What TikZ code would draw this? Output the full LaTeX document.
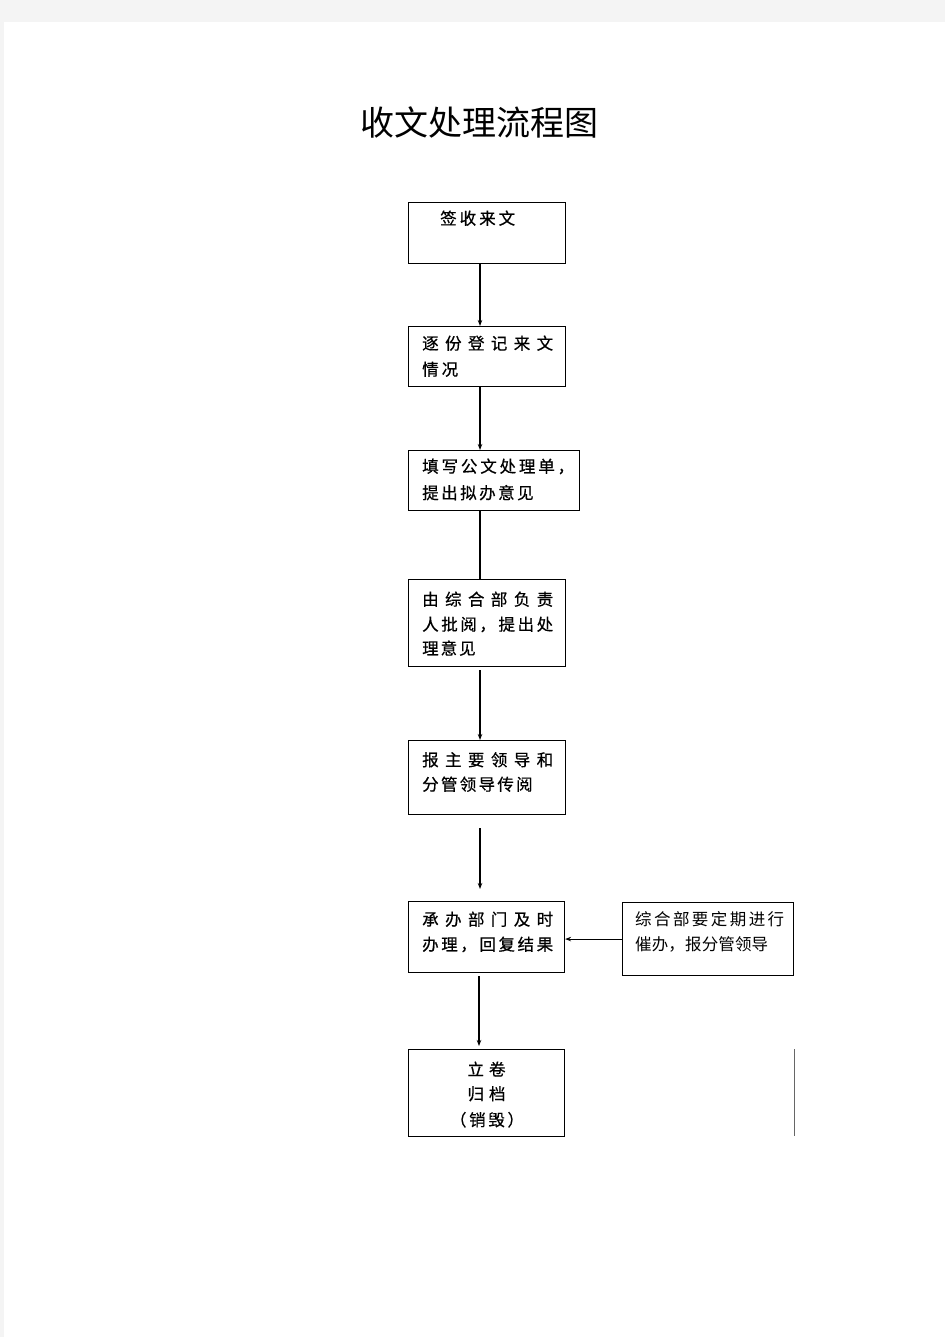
\documentclass[tikz,border=0pt]{standalone}
\usepackage{fontspec}
\newfontfamily\cjk{Noto Sans CJK SC}
\newfontfamily\cjkb[FakeBold=0.6]{Noto Sans CJK SC}
\usetikzlibrary{arrows.meta}
\definecolor{bgc}{HTML}{F4F4F4}
\newcommand\jt[2]{\makebox[#1pt][l]{#2}}
\begin{document}
\begin{tikzpicture}[x=1pt,y=-1pt,
  box/.style={draw=black,line width=1.1pt,anchor=north west,inner sep=0pt},
  txt/.style={anchor=base west,inner sep=0pt,font=\cjkb\fontsize{16.5}{20}\selectfont},
  rtxt/.style={anchor=base west,inner sep=0pt,font=\cjk\fontsize{16.5}{20}\selectfont},
  ctxt/.style={anchor=base,inner sep=0pt,font=\cjkb\fontsize{16.5}{20}\selectfont},
  conn/.style={line width=1.1pt},
  arr/.style={line width=1.1pt,-{Stealth[length=6pt,width=4.5pt]}}]
\fill[bgc] (0,0) rectangle (945,1337);
\fill[white] (4,22) rectangle (945,1337);
\useasboundingbox (0,0) rectangle (945,1337);
\coordinate (spine) at (480,0);
\coordinate (spineb) at (479,0);
% title
\node[inner sep=0pt,font=\cjk\fontsize{34}{40}\selectfont] (title) at (479,122.5) {收文处理流程图};
% boxes
\node[box,minimum width=157pt,minimum height=61pt] (b1) at (408,202) {};
\node[box,minimum width=157pt,minimum height=60pt] (b2) at (408,326) {};
\node[box,minimum width=171pt,minimum height=60pt] (b3) at (408,450) {};
\node[box,minimum width=157pt,minimum height=87pt] (b4) at (408,579) {};
\node[box,minimum width=157pt,minimum height=74pt] (b5) at (408,740) {};
\node[box,minimum width=156pt,minimum height=71pt] (b6) at (408,901) {};
\node[box,minimum width=171pt,minimum height=73pt] (b7) at (622,902) {};
\node[box,minimum width=156pt,minimum height=87pt] (b8) at (408,1049) {};
% texts
\node[txt] (t1) at (440,224.5) {\jt{75}{签\hfill 收\hfill 来\hfill 文}};
\node[txt] (t2a) at (422,349.5) {\jt{131}{逐\hfill 份\hfill 登\hfill 记\hfill 来\hfill 文}};
\node[txt] (t2b) at (422,375.5) {\jt{36}{情\hfill 况}};
\node[txt] (t3a) at (422,472.5) {\jt{152}{填\hfill 写\hfill 公\hfill 文\hfill 处\hfill 理\hfill 单\hfill ，}};
\node[txt] (t3b) at (422,499) {\jt{111.5}{提\hfill 出\hfill 拟\hfill 办\hfill 意\hfill 见}};
\node[txt] (t4a) at (422,605.5) {\jt{131}{由\hfill 综\hfill 合\hfill 部\hfill 负\hfill 责}};
\node[txt] (t4b) at (422,630.5) {\jt{131}{人\hfill 批\hfill 阅\hfill ，\hfill 提\hfill 出\hfill 处}};
\node[txt] (t4c) at (422,654.5) {\jt{53.5}{理\hfill 意\hfill 见}};
\node[txt] (t5a) at (422,766) {\jt{131}{报\hfill 主\hfill 要\hfill 领\hfill 导\hfill 和}};
\node[txt] (t5b) at (422,790.5) {\jt{110.5}{分\hfill 管\hfill 领\hfill 导\hfill 传\hfill 阅}};
\node[txt] (t6a) at (422,925.5) {\jt{131}{承\hfill 办\hfill 部\hfill 门\hfill 及\hfill 时}};
\node[txt] (t6b) at (422,950.5) {\jt{131}{办\hfill 理\hfill ，\hfill 回\hfill 复\hfill 结\hfill 果}};
\node[rtxt] (t7a) at (635,925.5) {\jt{149}{综\hfill 合\hfill 部\hfill 要\hfill 定\hfill 期\hfill 进\hfill 行}};
\node[rtxt] (t7b) at (635,950) {\jt{133}{催\hfill 办\hfill ，\hfill 报\hfill 分\hfill 管\hfill 领\hfill 导}};
\node[ctxt] (t8a) at (486.5,1075.5) {\jt{38}{立\hfill 卷}};
\node[ctxt] (t8b) at (486.5,1100) {\jt{38}{归\hfill 档}};
\node[ctxt] (t8c) at (487,1126) {\jt{74}{（\hfill 销\hfill 毁\hfill ）}};
% connectors
\draw[arr] (b1.south -| spine) -- (b2.north -| spine);
\draw[arr] (b2.south -| spine) -- (b3.north -| spine);
\draw[conn] (b3.south -| spine) -- (b4.north -| spine);
\draw[arr,shorten <=3pt] (b4.south -| spine) -- (b5.north -| spine);
\draw[arr,shorten <=13pt,shorten >=12pt] (b5.south -| spine) -- (b6.north -| spine);
\draw[arr,shorten <=3pt,shorten >=3pt] (b6.south -| spineb) -- (b8.north -| spineb);
\draw[arr] (b7.west) -- (b7.west -| b6.east);
% stray line
\coordinate (s1) at (794,1049);
\coordinate (s2) at (794,1136);
\draw[line width=1pt,black!60] (s1) -- (s2);
\end{tikzpicture}
\end{document}
